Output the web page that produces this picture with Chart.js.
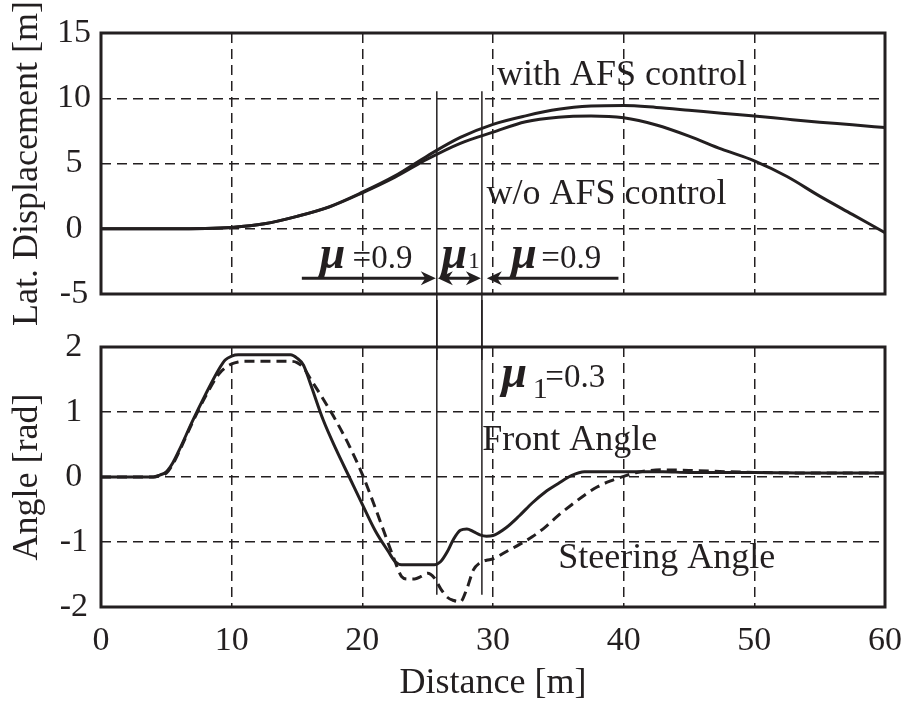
<!DOCTYPE html>
<html>
<head>
<meta charset="utf-8">
<script src="https://cdn.jsdelivr.net/npm/chart.js@4/dist/chart.umd.min.js"></script>
<style>
    html, body { margin: 0; padding: 0; background: #fff; }
    #wrap { position: relative; width: 906px; height: 708px; overflow: hidden; }
    #topChart { position: absolute; left: 0; top: 0; }
    #angleChart { position: absolute; left: 0; top: 300px; }
</style>
</head>
<body>
<div id="wrap">
    <canvas id="topChart" width="906" height="360"></canvas>
    <canvas id="angleChart" width="906" height="408"></canvas>
</div>
<script>
// --- Data ---

// top panel: lateral displacement [m]
const distTop = [0, 5, 8, 10, 12.5, 15, 17.5, 20, 22.5, 25, 27.5, 30, 32.5, 35, 37.5, 40, 42.5, 45, 47.5, 50, 52.5, 55, 57.5, 60];
const dispWithAfs = [0, 0, 0.02, 0.1, 0.38, 0.95, 1.7, 2.8, 4.05, 5.6, 7.0, 8.0, 8.65, 9.15, 9.4, 9.45, 9.3, 9.08, 8.85, 8.64, 8.4, 8.17, 7.97, 7.75];
const dispWithoutAfs = [0, 0, 0.02, 0.1, 0.38, 0.95, 1.68, 2.75, 3.95, 5.35, 6.55, 7.4, 8.2, 8.55, 8.64, 8.5, 7.95, 7.1, 6.1, 5.2, 4.0, 2.5, 1.1, -0.3];

// bottom panel: angles [rad]
const distAngle = [0, 4, 4.5, 5, 5.5, 6, 7, 8, 9, 9.5, 10, 10.5, 11, 14.5, 15, 15.5, 16, 17, 18, 19, 20, 21, 22, 22.5, 23, 23.5, 24, 24.5, 25, 25.5, 26, 26.5, 27, 27.5, 28, 28.5, 29, 29.5, 30, 31, 32, 33, 34, 35, 36, 37, 38, 39, 40, 41, 42, 43, 45, 50, 55, 60];
const frontAngle = [0, 0, 0.03, 0.08, 0.22, 0.42, 0.86, 1.27, 1.65, 1.8, 1.86, 1.88, 1.88, 1.88, 1.83, 1.72, 1.45, 0.88, 0.42, 0.0, -0.42, -0.83, -1.15, -1.3, -1.35, -1.35, -1.35, -1.35, -1.35, -1.35, -1.3, -1.15, -0.95, -0.82, -0.8, -0.84, -0.89, -0.91, -0.9, -0.78, -0.6, -0.4, -0.23, -0.1, 0.02, 0.08, 0.08, 0.08, 0.08, 0.08, 0.08, 0.08, 0.07, 0.07, 0.06, 0.06];
const steeringAngle = [0, 0, 0.02, 0.06, 0.2, 0.4, 0.84, 1.24, 1.58, 1.68, 1.74, 1.77, 1.78, 1.78, 1.76, 1.68, 1.52, 1.2, 0.86, 0.48, 0.04, -0.48, -1.03, -1.3, -1.53, -1.57, -1.57, -1.53, -1.48, -1.55, -1.72, -1.85, -1.9, -1.92, -1.72, -1.43, -1.32, -1.28, -1.26, -1.15, -1.04, -0.92, -0.77, -0.59, -0.43, -0.28, -0.15, -0.06, 0.01, 0.07, 0.1, 0.11, 0.1, 0.07, 0.06, 0.06];

// low friction zone (mu1) borders [m]
const frictionBounds = [25.7, 29.15];

// --- Styles ---
const INK = '#231f20';
const SERIF = "'Liberation Serif', 'Times New Roman', serif";
Chart.defaults.font.family = SERIF;
Chart.defaults.color = INK;

function toPoints(xs, ys) {
    return xs.map((x, i) => ({ x: x, y: ys[i] }));
}

function lineDataset(points, dashed) {
    return {
        data: points,
        borderColor: INK,
        borderWidth: 3,
        borderDash: dashed ? [10, 6] : [],
        pointRadius: 0,
        fill: false,
        cubicInterpolationMode: 'monotone'
    };
}

// рамка вокруг области графика
function drawFrame(chart) {
    const { ctx, chartArea: a } = chart;
    ctx.save();
    ctx.lineWidth = 3;
    ctx.strokeStyle = INK;
    ctx.strokeRect(a.left, a.top, a.right - a.left, a.bottom - a.top);
    ctx.restore();
}

function vLine(ctx, x, y1, y2) {
    ctx.beginPath();
    ctx.moveTo(x, y1);
    ctx.lineTo(x, y2);
    ctx.stroke();
}

// barbed arrow head, dir = +1 points right, -1 points left
function arrowHead(ctx, tx, ty, dir) {
    const L = 15, W = 7;
    ctx.beginPath();
    ctx.moveTo(tx, ty);
    ctx.lineTo(tx - dir * L, ty - W);
    ctx.lineTo(tx - dir * L * 0.7, ty);
    ctx.lineTo(tx - dir * L, ty + W);
    ctx.closePath();
    ctx.fill();
}

function label(ctx, text, px, py, font) {
    ctx.font = font;
    ctx.textAlign = 'left';
    ctx.textBaseline = 'alphabetic';
    ctx.fillText(text, px, py);
}

const MU_FONT = 'bold italic 46px ' + SERIF;
const NOTE_FONT = '36px ' + SERIF;
const VAL_FONT = '33px ' + SERIF;

const topNotes = {
    id: 'topNotes',
    afterDraw(chart) {
        const ctx = chart.ctx;
        const xs = chart.scales.x, ys = chart.scales.y;
        drawFrame(chart);
        ctx.save();
        ctx.strokeStyle = INK;
        ctx.fillStyle = INK;

        // borders of mu1 zone
        ctx.lineWidth = 1.5;
        frictionBounds.forEach(b => vLine(ctx, xs.getPixelForValue(b), ys.getPixelForValue(10.54), chart.height));

        // arrows
        const ay = ys.getPixelForValue(-3.79);
        const b0 = xs.getPixelForValue(frictionBounds[0]);
        const b1 = xs.getPixelForValue(frictionBounds[1]);
        ctx.lineWidth = 3;
        ctx.beginPath();
        ctx.moveTo(xs.getPixelForValue(15.37), ay); ctx.lineTo(b0 - 6, ay);
        ctx.moveTo(b0 + 6, ay); ctx.lineTo(b1 - 6, ay);
        ctx.moveTo(xs.getPixelForValue(39.6), ay); ctx.lineTo(b1 + 10, ay);
        ctx.stroke();
        arrowHead(ctx, b0 - 1, ay, 1);
        arrowHead(ctx, b0 + 1, ay, -1);
        arrowHead(ctx, b1 - 1, ay, 1);
        arrowHead(ctx, xs.getPixelForValue(29.53), ay, -1);

        // texts
        label(ctx, 'with AFS control', xs.getPixelForValue(30.3), ys.getPixelForValue(11.0), NOTE_FONT);
        label(ctx, 'w/o AFS control', xs.getPixelForValue(29.5), ys.getPixelForValue(1.9), NOTE_FONT);
        const ty = ys.getPixelForValue(-3.0);
        label(ctx, 'μ', xs.getPixelForValue(16.75), ty, MU_FONT);
        label(ctx, '=0.9', xs.getPixelForValue(19.25), ty, VAL_FONT);
        label(ctx, 'μ', xs.getPixelForValue(26.05), ty, MU_FONT);
        label(ctx, '1', xs.getPixelForValue(28.1), ty, '23px ' + SERIF);
        label(ctx, 'μ', xs.getPixelForValue(31.4), ty, MU_FONT);
        label(ctx, '=0.9', xs.getPixelForValue(33.7), ty, VAL_FONT);
        ctx.restore();
    }
};

const angleNotes = {
    id: 'angleNotes',
    afterDraw(chart) {
        const ctx = chart.ctx;
        const xs = chart.scales.x, ys = chart.scales.y;
        drawFrame(chart);
        ctx.save();
        ctx.strokeStyle = INK;
        ctx.fillStyle = INK;
        ctx.lineWidth = 1.5;
        frictionBounds.forEach(b => vLine(ctx, xs.getPixelForValue(b), 0, ys.getPixelForValue(-1.81)));

        const ty = ys.getPixelForValue(1.39);
        label(ctx, 'μ', xs.getPixelForValue(30.65), ty, MU_FONT);
        label(ctx, '1', xs.getPixelForValue(33.05), ys.getPixelForValue(1.22), '30px ' + SERIF);
        label(ctx, '=0.3', xs.getPixelForValue(34.0), ty, VAL_FONT);
        label(ctx, 'Front Angle', xs.getPixelForValue(29.17), ys.getPixelForValue(0.42), NOTE_FONT);
        label(ctx, 'Steering Angle', xs.getPixelForValue(34.99), ys.getPixelForValue(-1.395), NOTE_FONT);
        ctx.restore();
    }
};

// общие настройки осей
function gridOpts() {
    return { color: INK, lineWidth: 1.5, drawTicks: false };
}

// --- Top chart: lateral displacement ---
new Chart(document.getElementById('topChart'), {
    type: 'line',
    data: {
        datasets: [
            lineDataset(toPoints(distTop, dispWithAfs), false),
            lineDataset(toPoints(distTop, dispWithoutAfs), false)
        ]
    },
    options: {
        responsive: false,
        animation: false,
        layout: { padding: { top: 33, right: 21, bottom: 0, left: 0 } },
        plugins: { legend: { display: false }, tooltip: { enabled: false } },
        scales: {
            x: {
                type: 'linear', min: 0, max: 60,
                ticks: { display: false, stepSize: 10 },
                grid: gridOpts(),
                border: { display: false, dash: [10, 6] },
                afterFit: s => { s.height = 66; }
            },
            y: {
                min: -5, max: 15,
                ticks: { stepSize: 5, padding: 10, crossAlign: 'center', font: { size: 34 } },
                grid: gridOpts(),
                border: { display: false, dash: [10, 6] },
                title: { display: true, text: 'Lat. Displacement [m]', font: { size: 36 }, padding: { top: 6, bottom: 0 } },
                afterFit: s => { s.width = 101; }
            }
        }
    },
    plugins: [topNotes]
});

// --- Bottom chart: angles ---
new Chart(document.getElementById('angleChart'), {
    type: 'line',
    data: {
        datasets: [
            lineDataset(toPoints(distAngle, frontAngle), false),
            lineDataset(toPoints(distAngle, steeringAngle), true)
        ]
    },
    options: {
        responsive: false,
        animation: false,
        layout: { padding: { top: 47, right: 21, bottom: 0, left: 0 } },
        plugins: { legend: { display: false }, tooltip: { enabled: false } },
        scales: {
            x: {
                type: 'linear', min: 0, max: 60,
                // small padding so the "60" label does not shrink the plot; gap comes from lineHeight
                ticks: { stepSize: 10, padding: 3, font: { size: 34, lineHeight: 1.82 } },
                grid: gridOpts(),
                border: { display: false, dash: [10, 6] },
                title: { display: true, text: 'Distance [m]', font: { size: 36 }, padding: { top: 0, bottom: 3 } },
                afterFit: s => { s.height = 101; }
            },
            y: {
                min: -2, max: 2,
                ticks: { stepSize: 1, padding: 13, crossAlign: 'center', font: { size: 34 } },
                grid: gridOpts(),
                border: { display: false, dash: [10, 6] },
                title: { display: true, text: 'Angle [rad]', font: { size: 36 }, padding: { top: 6, bottom: 0 } },
                afterFit: s => { s.width = 101; }
            }
        }
    },
    plugins: [angleNotes]
});
</script>
</body>
</html>
